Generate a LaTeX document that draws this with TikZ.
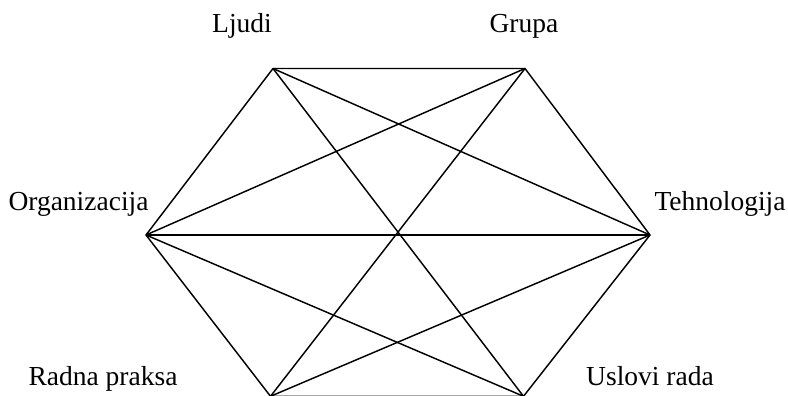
\documentclass[tikz,border=0pt]{standalone}
\usepackage{fontspec}
\setmainfont{Liberation Serif}
\begin{document}
\begin{tikzpicture}[x=1pt,y=-1pt,
  edge/.style={line width=1.45pt,line join=round},
  lbl/.style={anchor=base,inner sep=0pt,font=\fontsize{27.5}{30}\selectfont}]
\clip (0,0) rectangle (788,396);
\useasboundingbox (0,0) rectangle (788,396);
\coordinate (L) at (273,68.5);
\coordinate (G) at (525,68.5);
\coordinate (T) at (650,235);
\coordinate (U) at (523.5,396.3);
\coordinate (R) at (270.5,396.3);
\coordinate (O) at (146,235);
\node[lbl] (lL) at (242,33) {Ljudi};
\node[lbl] (lG) at (524,33) {Grupa};
\node[lbl] (lO) at (78.5,210) {Organizacija};
\node[lbl] (lT) at (720,210) {Tehnologija};
\node[lbl] (lR) at (103,385) {Radna praksa};
\node[lbl] (lU) at (650,385) {Uslovi rada};
\draw[edge] (L) -- (G) -- (T) -- (U) -- (R) -- (O) -- cycle;
\draw[edge] (L) -- (T);
\draw[edge] (L) -- (U);
\draw[edge] (G) -- (O);
\draw[edge] (G) -- (R);
\draw[edge] (O) -- (T);
\draw[edge] (O) -- (U);
\draw[edge] (T) -- (R);
\end{tikzpicture}
\end{document}
